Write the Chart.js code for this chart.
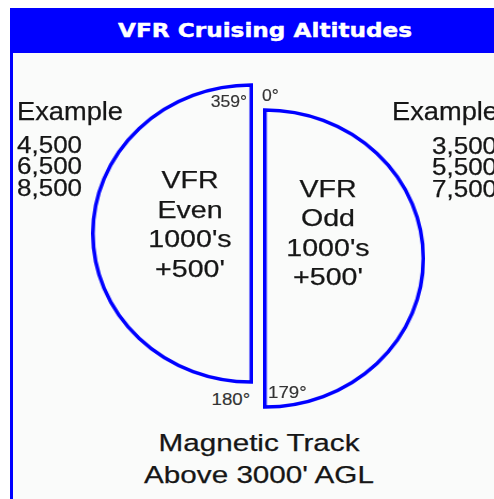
<!DOCTYPE html>
<html>
<head>
<meta charset="utf-8">
<title>VFR Cruising Altitudes</title>
<script src="https://cdn.jsdelivr.net/npm/chart.js@4/dist/chart.umd.min.js"></script>
<style>
    html, body {
        margin: 0;
        padding: 0;
        width: 494px;
        height: 499px;
        overflow: hidden;
        background: #ffffff;
        font-family: "Liberation Sans", Arial, sans-serif;
        color: #161616;
    }
    .page { position: relative; width: 494px; height: 499px; }
    .header {
        position: absolute; left: 10px; top: 8px; width: 484px; height: 45px;
        background: #0000ff;
    }
    .header span {
        position: absolute; left: 108px; top: 12.6px;
        font-family: "DejaVu Sans", Verdana, sans-serif; font-weight: bold;
        font-size: 19px; line-height: 19px; color: #ffffff; white-space: nowrap;
        -webkit-text-stroke: 0.4px #ffffff;
        transform: scaleX(1.22); transform-origin: 0 0;
    }
    .edge { position: absolute; left: 10px; top: 53px; width: 3px; height: 446px; background: #0000ff; }
    .panel { position: absolute; left: 13px; top: 53px; right: 0; bottom: 0; background: #fafbfa; }

    .chartBox { position: absolute; transform: scaleX(1.067); transform-origin: 0 0; }
    .chartBox canvas { display: block; }
    #evenBox { left: 91.1px; top: 82.8px; }
    #oddBox { left: 262.7px; top: 108.3px; }

    .lbl { position: absolute; white-space: nowrap; -webkit-text-stroke: 0.25px #161616; }
    .example { font-size: 25px; line-height: 25px; transform: scaleX(1.09); transform-origin: 0 0; }
    .nums { font-size: 23px; line-height: 21.7px; transform: scaleX(1.13); transform-origin: 0 0; }
    .mid {
        width: 200px; text-align: center; font-size: 24px; line-height: 29.5px;
        transform: scaleX(1.19); transform-origin: 50% 0;
    }
    .foot {
        width: 300px; text-align: center; font-size: 24.5px; line-height: 31.6px;
        transform: scaleX(1.21); transform-origin: 50% 0;
    }
    .deg {
        font-size: 16px; line-height: 16px; color: #333333; -webkit-text-stroke: 0.15px #333333;
        transform: scaleX(1.1); transform-origin: 0 0;
    }
    .deg.big { font-size: 17px; line-height: 17px; }
    .deg.right { transform-origin: 100% 0; }
</style>
</head>
<body>
<div class="page">
    <div class="header"><span id="title"></span></div>
    <div class="edge"></div>
    <div class="panel"></div>

    <div class="chartBox" id="evenBox"><canvas id="evenChart" width="152" height="301"></canvas></div>
    <div class="chartBox" id="oddBox"><canvas id="oddChart" width="152" height="301"></canvas></div>

    <div class="lbl example" id="evenExampleTitle" style="left:17px; top:98.9px;"></div>
    <div class="lbl nums" id="evenExamples" style="left:17px; top:134.7px;"></div>
    <div class="lbl example" id="oddExampleTitle" style="left:391.7px; top:98.9px;"></div>
    <div class="lbl nums" id="oddExamples" style="left:431.7px; top:135.7px;"></div>

    <div class="lbl mid" id="evenText" style="left:89.5px; top:165.2px;"></div>
    <div class="lbl mid" id="oddText" style="left:228.3px; top:173.6px;"></div>

    <div class="lbl deg right" id="deg359" style="right:247px; top:93.5px;"></div>
    <div class="lbl deg" id="deg0" style="left:262px; top:88px;"></div>
    <div class="lbl deg big right" id="deg180" style="right:244px; top:390.6px;"></div>
    <div class="lbl deg big" id="deg179" style="left:268.3px; top:383.6px;"></div>

    <div class="lbl foot" id="footer" style="left:109px; top:427.4px;"></div>
</div>

<script>
// ---- chart data ----
const chartTitle = "VFR Cruising Altitudes";
const halves = ["Even", "Odd"];
const halfSpan = [180, 180];          // degrees of magnetic track covered by each half
const halfRotation = [180, 0];        // even half on the west side, odd half on the east side
const evenExamples = ["4,500", "6,500", "8,500"];
const oddExamples = ["3,500", "5,500", "7,500"];
const trackLabels = ["359°", "0°", "180°", "179°"];
const exampleLabel = "Example";
const ruleLines = ["VFR", "1000's", "+500'"];
const footerLines = ["Magnetic Track", "Above 3000' AGL"];

const BLUE = "#0000ff";

document.addEventListener("DOMContentLoaded", function () {
    fillTexts();

    // one pie per half, each showing a single 180 degree slice
    renderHalf("evenChart", 0);
    renderHalf("oddChart", 1);
});

function fillTexts() {
    document.getElementById("title").textContent = chartTitle;

    document.getElementById("evenExampleTitle").textContent = exampleLabel;
    document.getElementById("oddExampleTitle").textContent = exampleLabel;
    document.getElementById("evenExamples").innerHTML = evenExamples.join("<br>");
    document.getElementById("oddExamples").innerHTML = oddExamples.join("<br>");

    document.getElementById("evenText").innerHTML = [ruleLines[0], halves[0], ruleLines[1], ruleLines[2]].join("<br>");
    document.getElementById("oddText").innerHTML = [ruleLines[0], halves[1], ruleLines[1], ruleLines[2]].join("<br>");

    document.getElementById("deg359").textContent = trackLabels[0];
    document.getElementById("deg0").textContent = trackLabels[1];
    document.getElementById("deg180").textContent = trackLabels[2];
    document.getElementById("deg179").textContent = trackLabels[3];

    document.getElementById("footer").innerHTML = footerLines.join("<br>");
}

function renderHalf(canvasId, i) {
    const ctx = document.getElementById(canvasId).getContext("2d");

    new Chart(ctx, {
        type: "pie",
        data: {
            labels: [halves[i]],
            datasets: [{
                data: [halfSpan[i]],
                backgroundColor: "rgba(0,0,0,0)",
                borderColor: BLUE,
                borderWidth: 3.5,
                hoverBorderWidth: 3.5,
                borderAlign: "center",
                borderJoinStyle: "miter",
                offset: 0,
                hoverOffset: 0
            }]
        },
        options: {
            responsive: false,
            animation: false,
            events: [],
            rotation: halfRotation[i],
            circumference: halfSpan[i],
            layout: { padding: 0 },
            plugins: {
                legend: { display: false },
                title: { display: false },
                tooltip: { enabled: false }
            }
        }
    });
}
</script>
</body>
</html>
